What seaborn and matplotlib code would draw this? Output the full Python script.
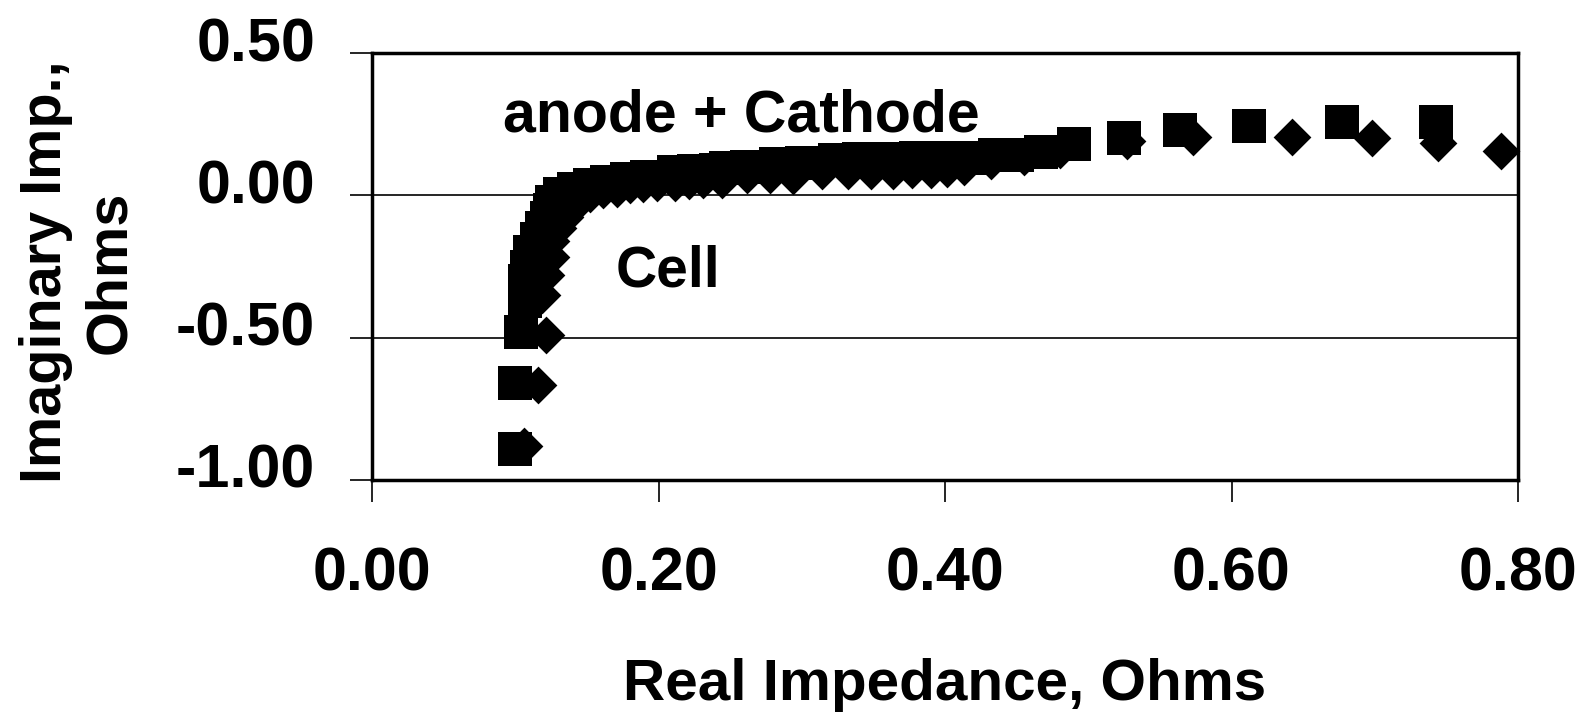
import matplotlib
matplotlib.use("Agg")
import matplotlib.pyplot as plt
import matplotlib.transforms as mtransforms
import seaborn as sns
import pandas as pd

# anode + Cathode (squares)
ac_real = [0.100, 0.100, 0.104, 0.107, 0.107, 0.108, 0.110, 0.115, 0.119, 0.122,
           0.124, 0.126, 0.131, 0.141, 0.152, 0.164, 0.178, 0.192, 0.211, 0.225,
           0.240, 0.247, 0.262, 0.282, 0.300, 0.323, 0.340, 0.360, 0.380, 0.400,
           0.420, 0.435, 0.450, 0.467, 0.490, 0.525, 0.564, 0.612, 0.677, 0.743]
ac_imag = [-0.89, -0.66, -0.48, -0.37, -0.30, -0.25, -0.20, -0.155, -0.115, -0.08,
           -0.05, -0.025, 0.005, 0.023, 0.035, 0.048, 0.056, 0.065, 0.083, 0.085,
           0.090, 0.097, 0.100, 0.111, 0.115, 0.125, 0.127, 0.128, 0.130, 0.132,
           0.130, 0.140, 0.142, 0.153, 0.181, 0.200, 0.229, 0.243, 0.257, 0.257]

# Cell (diamonds)
cell_real = [0.106, 0.116, 0.1215, 0.119, 0.1215, 0.125, 0.125, 0.130, 0.135, 0.142,
             0.152, 0.161, 0.171, 0.180, 0.189, 0.199, 0.2116, 0.221, 0.231, 0.244,
             0.262, 0.278, 0.294, 0.314, 0.332, 0.348, 0.364, 0.377, 0.390, 0.4015,
             0.413, 0.432, 0.455, 0.480, 0.527, 0.573, 0.642, 0.698, 0.744, 0.788]
cell_imag = [-0.88, -0.665, -0.49, -0.35, -0.28, -0.215, -0.162, -0.116, -0.075, -0.035,
             0.004, 0.018, 0.021, 0.035, 0.039, 0.045, 0.042, 0.051, 0.053, 0.055,
             0.070, 0.070, 0.068, 0.084, 0.084, 0.084, 0.085, 0.088, 0.088, 0.092,
             0.099, 0.120, 0.135, 0.160, 0.190, 0.204, 0.204, 0.200, 0.183, 0.155]

x_ticks = [0.0, 0.2, 0.4, 0.6, 0.8]
x_ticklabels = ["0.00", "0.20", "0.40", "0.60", "0.80"]
y_ticks = [0.5, 0.0, -0.5, -1.0]
y_ticklabels = ["0.50", "0.00", "-0.50", "-1.00"]

sns.set_style("white")
plt.rcParams["font.family"] = ["Liberation Sans", "DejaVu Sans"]
plt.rcParams["font.weight"] = "bold"
for key in ["text.color", "axes.labelcolor", "xtick.color", "ytick.color",
            "xtick.labelcolor", "ytick.labelcolor"]:
    plt.rcParams[key] = "black"

df_ac = pd.DataFrame({"real": ac_real, "imag": ac_imag})
df_cell = pd.DataFrame({"real": cell_real, "imag": cell_imag})

fig = plt.figure(figsize=(15.87, 7.15), dpi=100)
ax = fig.add_axes([372 / 1587, 1 - 480 / 715, (1518 - 372) / 1587, (480 - 53) / 715])

sns.scatterplot(data=df_ac, x="real", y="imag", marker="s", s=620, color="black",
                linewidth=0, ax=ax, zorder=3)
sns.scatterplot(data=df_cell, x="real", y="imag", marker="D", s=370, color="black",
                linewidth=0, ax=ax, zorder=3, clip_on=False)

ax.set_xlim(0, 0.8)
ax.set_ylim(-1.0, 0.5)
ax.set_xticks(x_ticks)
ax.set_xticklabels(x_ticklabels)
ax.set_yticks(y_ticks)
ax.set_yticklabels(y_ticklabels)

for sp in ax.spines.values():
    sp.set_visible(True)
    sp.set_color("black")
    sp.set_linewidth(2.5)

ax.axhline(0.0, color="black", lw=1.2, zorder=1)
ax.axhline(-0.5, color="black", lw=1.2, zorder=1)

ax.tick_params(axis="both", which="major", direction="out", length=16, width=1.2,
               color="black", labelcolor="black", labelsize=44, left=True, bottom=True)
ax.tick_params(axis="x", pad=32)
ax.tick_params(axis="y", pad=25)
for lab in ax.get_xticklabels() + ax.get_yticklabels():
    lab.set_fontweight("bold")
offset = mtransforms.ScaledTranslation(0, 0.14, fig.dpi_scale_trans)
for lab in ax.get_yticklabels():
    lab.set_transform(lab.get_transform() + offset)

ax.set_xlabel("")
ax.set_ylabel("")
fig.text(945 / 1587, 1 - 700 / 715, "Real Impedance, Ohms", ha="center", va="baseline",
         fontsize=42, fontweight="bold", color="black")
fig.text(78 / 1587, 1 - 272 / 715, "Imaginary Imp.,\nOhms", ha="center", va="center",
         rotation=90, multialignment="center", linespacing=1.25,
         fontsize=41.5, fontweight="bold", color="black")

ax.text(0.0915, 0.225, "anode + Cathode", ha="left", va="baseline",
        fontsize=42.5, fontweight="bold", color="black")
ax.text(0.170, -0.32, "Cell", ha="left", va="baseline",
        fontsize=41, fontweight="bold", color="black")

fig.savefig("out.png", dpi=100)
